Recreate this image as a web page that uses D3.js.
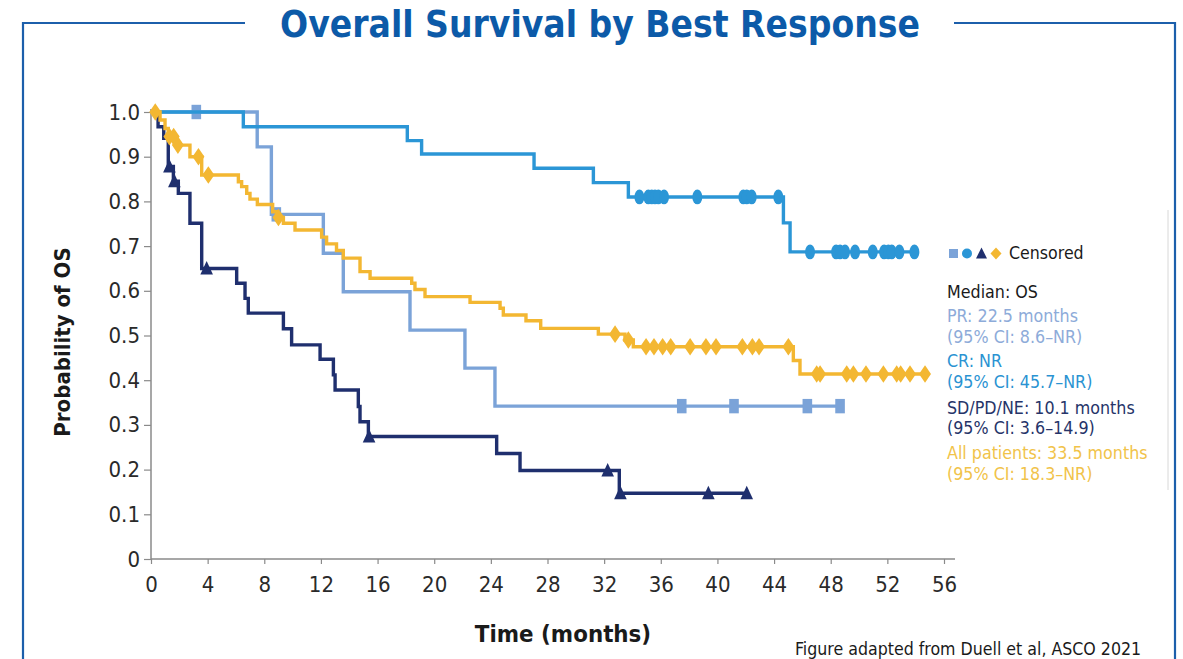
<!DOCTYPE html>
<html><head><meta charset="utf-8">
<script src="https://cdn.jsdelivr.net/npm/d3@7"></script>
<style>
html,body{margin:0;padding:0;background:#fff;}
svg text{font-family:"DejaVu Sans Condensed","DejaVu Sans",sans-serif;font-stretch:condensed;}
</style></head>
<body>
<svg id="c" width="1183" height="659"></svg>
<script>
// ---- data ----
const xTicks = [0,4,8,12,16,20,24,28,32,36,40,44,48,52,56];
const yTicks = [0,0.1,0.2,0.3,0.4,0.5,0.6,0.7,0.8,0.9,1.0];
const yTickLabels = ["0","0.1","0.2","0.3","0.4","0.5","0.6","0.7","0.8","0.9","1.0"];

const prTime = [0, 7.5, 8.5, 12.17, 13.58, 18.29, 22.17, 24.29, 48.66];
const prSurv = [1, 0.922, 0.771, 0.684, 0.598, 0.512, 0.427, 0.342, 0.342];
const prCensor = [3.2, 8.85, 37.48, 41.17, 46.35, 48.66];

const crTime = [0, 6.52, 18.1, 19.11, 27.05, 31.24, 33.71, 44.66, 45.13, 53.91];
const crSurv = [1, 0.967, 0.936, 0.906, 0.874, 0.842, 0.81, 0.752, 0.687, 0.687];
const crCensor = [34.49, 35.12, 35.36, 35.59, 35.83, 36.23, 38.58, 41.83, 42.07, 42.42, 44.3,
  46.54, 48.38, 48.66, 49.01, 49.72, 50.97, 51.77, 52.07, 52.31, 52.85, 53.91];

const sdTime = [0, 0.5, 0.9, 1.22, 1.58, 1.93, 2.75, 3.58, 6.05, 6.64, 6.87, 9.35, 9.93, 11.94,
  12.88, 13.0, 14.64, 14.76, 15.35, 24.41, 26.06, 33.07, 42.07];
const sdSurv = [1, 0.967, 0.941, 0.878, 0.845, 0.818, 0.751, 0.65, 0.617, 0.583, 0.55, 0.515,
  0.479, 0.447, 0.412, 0.378, 0.341, 0.307, 0.274, 0.236, 0.198, 0.147, 0.147];
const sdCensor = [1.3, 1.65, 3.93, 15.4, 32.25, 33.15, 39.36, 42.07];

const allTime = [0, 0.64, 0.99, 1.22, 1.81, 2.75, 3.58, 6.17, 6.4, 6.76, 6.99, 7.51, 8.59, 8.9,
  9.35, 10.17, 12.05, 12.4, 13.1, 13.58, 14.76, 15.47, 18.41, 18.64, 19.35, 22.53, 24.65, 24.88,
  26.48, 27.52, 31.59, 33.47, 34.06, 45.36, 45.83, 54.66];
const allSurv = [1, 0.982, 0.963, 0.945, 0.926, 0.90, 0.859, 0.844, 0.833, 0.818, 0.805, 0.793,
  0.777, 0.764, 0.751, 0.736, 0.72, 0.705, 0.69, 0.673, 0.643, 0.628, 0.617, 0.603, 0.587, 0.574,
  0.561, 0.546, 0.533, 0.516, 0.503, 0.49, 0.475, 0.444, 0.414, 0.414];
const allCensor = [0.3, 1.3, 1.6, 1.9, 3.35, 4.05, 9.0, 32.77, 33.71, 34.96, 35.52, 36.13, 36.7,
  38.07, 39.19, 39.9, 41.76, 42.47, 42.94, 45.01, 47.01, 47.25, 49.13, 49.6, 50.49, 51.72, 52.66,
  52.94, 53.6, 54.66];

const legendLines = [
  {text:"Median: OS", color:"#1a1a1a"},
  {text:"PR: 22.5 months", color:"#8dabd9"},
  {text:"(95% CI: 8.6\u2013NR)", color:"#8dabd9"},
  {text:"CR: NR", color:"#2a93d2"},
  {text:"(95% CI: 45.7\u2013NR)", color:"#2a93d2"},
  {text:"SD/PD/NE: 10.1 months", color:"#263469"},
  {text:"(95% CI: 3.6\u201314.9)", color:"#263469"},
  {text:"All patients: 33.5 months", color:"#f1c34a"},
  {text:"(95% CI: 18.3\u2013NR)", color:"#f1c34a"}
];

// ---- chart ----
const svg = d3.select("#c");
const x = d3.scaleLinear().domain([0,56]).range([151,944]);
const y = d3.scaleLinear().domain([0,1]).range([559,112]);

const frame = "#1c5fab";
svg.append("path")
  .attr("d","M245,23 H23 V659 M954,23 H1175 V659")
  .attr("fill","none").attr("stroke",frame).attr("stroke-width",2.2);

svg.append("text").attr("x",600).attr("y",37).attr("text-anchor","middle")
  .attr("font-size",36.8).attr("font-weight","bold").attr("fill","#0c5aa8")
  .text("Overall Survival by Best Response");

svg.append("line").attr("x1",1168).attr("x2",1168).attr("y1",210).attr("y2",490)
  .attr("stroke","#d8d8d8").attr("stroke-width",1);

// axes
const axisColor = "#8a8a8a";
const gx = svg.append("g").attr("transform",`translate(0,${y(0)})`)
  .call(d3.axisBottom(x).tickValues(xTicks).tickSize(5).tickSizeOuter(0).tickFormat(d3.format("d")));
gx.select(".domain").remove();
gx.append("line").attr("x1",x(0)).attr("x2",x(56)+11).attr("stroke",axisColor).attr("stroke-width",1.5);
gx.selectAll(".tick line").attr("stroke",axisColor).attr("stroke-width",1.2);
gx.selectAll(".tick text").attr("font-size",22).attr("fill","#2a2a2a").attr("y",17)
  .attr("font-family","DejaVu Sans Condensed, DejaVu Sans");

const gy = svg.append("g").attr("transform",`translate(${x(0)},0)`)
  .call(d3.axisLeft(y).tickValues(yTicks).tickSize(7).tickSizeOuter(0)
    .tickFormat((d,i)=>yTickLabels[i]));
gy.select(".domain").remove();
gy.append("line").attr("y1",y(0)).attr("y2",y(1)-3).attr("stroke",axisColor).attr("stroke-width",1.5);
gy.selectAll(".tick line").attr("stroke",axisColor).attr("stroke-width",1.2);
gy.selectAll(".tick text").attr("font-size",22).attr("fill","#2a2a2a").attr("x",-11)
  .attr("font-family","DejaVu Sans Condensed, DejaVu Sans");

svg.append("text").attr("x",563).attr("y",642).attr("text-anchor","middle")
  .attr("font-size",23.8).attr("font-weight","bold").attr("fill","#1a1a1a").text("Time (months)");
svg.append("text").attr("transform","translate(70,342) rotate(-90)").attr("text-anchor","middle")
  .attr("font-size",22).attr("font-weight","bold").attr("fill","#1a1a1a").text("Probability of OS");

svg.append("text").attr("x",795).attr("y",655).attr("font-size",17.6).attr("fill","#1a1a1a")
  .text("Figure adapted from Duell et al, ASCO 2021");

// series
const series = [
  {time:prTime, surv:prSurv, cens:prCensor, color:"#7ba3d8", shape:"square"},
  {time:crTime, surv:crSurv, cens:crCensor, color:"#2b96d6", shape:"circle"},
  {time:sdTime, surv:sdSurv, cens:sdCensor, color:"#1f2f6e", shape:"triangle"},
  {time:allTime, surv:allSurv, cens:allCensor, color:"#f3b732", shape:"diamond"}
];
const line = d3.line().x(d=>x(d[0])).y(d=>y(d[1])).curve(d3.curveStepAfter);
const bis = d3.bisector(d=>d).right;

function marker(g, shape, color, cx, cy, sx, sy){
  sx = sx||1; sy = sy||1;
  if(shape==="square"){
    g.append("rect").attr("x",cx-4.8*sx).attr("y",cy-7.2*sy).attr("width",9.6*sx).attr("height",14.4*sy).attr("fill",color);
  } else if(shape==="circle"){
    g.append("ellipse").attr("cx",cx).attr("cy",cy).attr("rx",5*sx).attr("ry",7.4*sy).attr("fill",color);
  } else if(shape==="triangle"){
    g.append("path").attr("d",`M${cx},${cy-7.5*sy} L${cx+6.3*sx},${cy+6*sy} L${cx-6.3*sx},${cy+6*sy} Z`).attr("fill",color);
  } else {
    g.append("path").attr("d",`M${cx},${cy-8.8*sy} L${cx+6*sx},${cy} L${cx},${cy+8.8*sy} L${cx-6*sx},${cy} Z`).attr("fill",color);
  }
}

series.forEach(s=>{
  const pts = s.time.map((t,i)=>[t,s.surv[i]]);
  svg.append("path").datum(pts).attr("d",line).attr("fill","none")
    .attr("stroke",s.color).attr("stroke-width",3.4);
  const g = svg.append("g");
  s.cens.forEach(t=>{
    const v = s.surv[Math.max(0,bis(s.time,t)-1)];
    marker(g, s.shape, s.color, x(t), y(v));
  });
});

// legend
const lg = svg.append("g");
lg.append("rect").attr("x",949).attr("y",249).attr("width",9).attr("height",9).attr("fill","#7ba3d8");
lg.append("circle").attr("cx",967).attr("cy",253.5).attr("r",5).attr("fill","#2b96d6");
lg.append("path").attr("d","M981.5,247.5 L987,258.5 L976,258.5 Z").attr("fill","#1f2f6e");
lg.append("path").attr("d","M996,247.5 L1001.5,253.5 L996,259.5 L990.5,253.5 Z").attr("fill","#f3b732");
lg.append("text").attr("x",1009).attr("y",259).attr("font-size",17.6).attr("fill","#1a1a1a").text("Censored");
const legY = [298,322,343,367,388,414,434,459,480];
legendLines.forEach((d,i)=>{
  lg.append("text").attr("x",947).attr("y",legY[i]).attr("font-size",17.7).attr("fill",d.color).text(d.text);
});
</script>
</body></html>
